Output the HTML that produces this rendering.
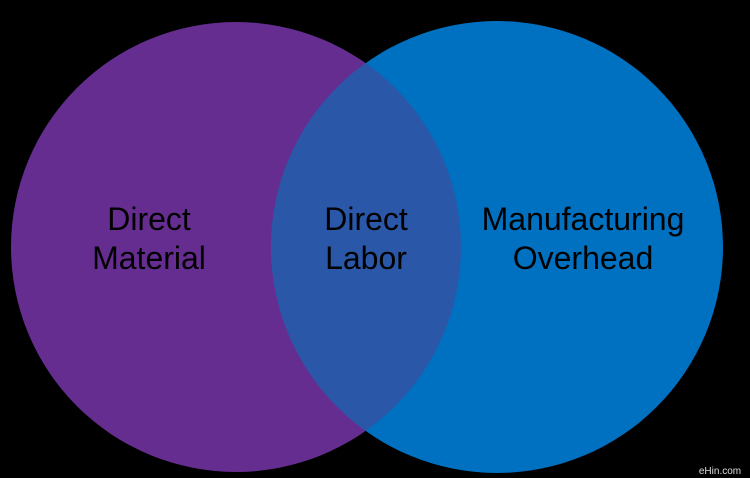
<!DOCTYPE html>
<html><head><style>
html,body{margin:0;padding:0;background:#000;}
svg{display:block;}
text{font-family:"Liberation Sans",Arial,sans-serif;font-size:32px;fill:#000;text-anchor:middle;}
</style></head><body>
<svg width="750" height="478" viewBox="0 0 750 478">
<defs><clipPath id="c"><circle cx="236" cy="247" r="225"/></clipPath></defs>
<rect width="750" height="478" fill="#000"/>
<circle cx="236" cy="247" r="225" fill="#662D91"/>
<circle cx="497" cy="247" r="226" fill="#0070C0"/>
<circle cx="497" cy="247" r="226" fill="#2A57A8" clip-path="url(#c)"/>
<text x="149" y="230">Direct</text>
<text x="149" y="269">Material</text>
<text x="366" y="230">Direct</text>
<text x="366" y="269">Labor</text>
<text x="583" y="230">Manufacturing</text>
<text x="583" y="269">Overhead</text>
<text x="720" y="474" style="font-size:10px;fill:#ddd">eHin.com</text>
</svg>
</body></html>
